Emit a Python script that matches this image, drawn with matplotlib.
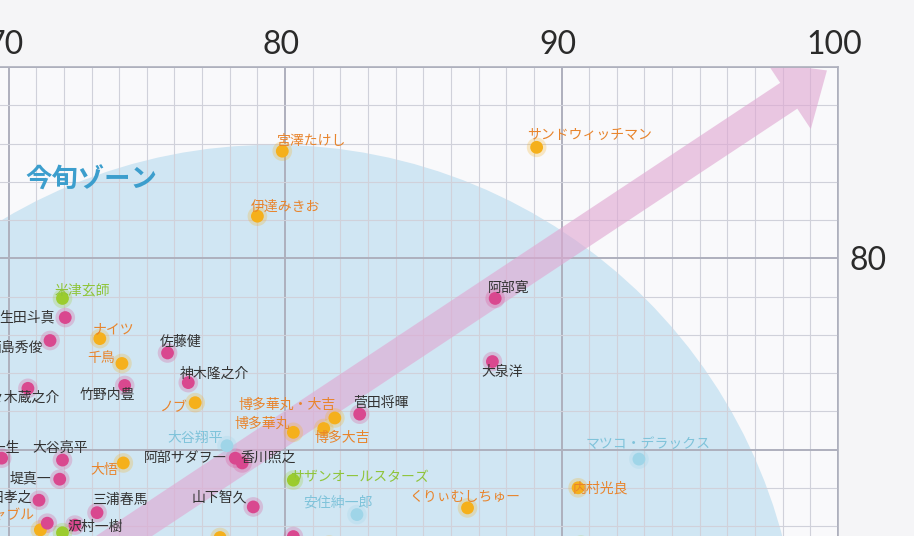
import numpy as np
import matplotlib.pyplot as plt
from matplotlib.patches import Ellipse, FancyArrowPatch
from matplotlib.ticker import MultipleLocator, FuncFormatter
from matplotlib.transforms import ScaledTranslation

plt.rcParams['font.family'] = ['Noto Sans CJK JP', 'DejaVu Sans']

# 名前・スコア（横軸・縦軸）・分類
names = ['宮澤たけし', '伊達みきお', 'サンドウィッチマン', '阿部寛', '大泉洋',
         'マツコ・デラックス', '内村光良', 'くりぃむしちゅー', '嵐', 'タカアンドトシ',
         'ウッチャンナンチャン', '安住紳一郎', 'サザンオールスターズ', 'ムロツヨシ', 'バカリズム',
         '山下智久', '阿部サダヲ―', '香川照之', '大谷翔平', '博多華丸・大吉',
         '博多華丸', '博多大吉', '菅田将暉', 'ノブ', '米津玄師',
         '生田斗真', '西島秀俊', 'ナイツ', '千鳥', '竹野内豊',
         '佐々木蔵之介', '佐藤健', '神木隆之介', '高橋一生', '大谷亮平',
         '堤真一', '山田孝之', 'アンタッチャブル', 'オードリー', '沢村一樹',
         '三浦春馬', '大悟', '', '']
x_score = [79.9, 79.0, 89.1, 87.6, 87.5,
           92.8, 90.6, 86.6, 90.7, 86.7,
           81.6, 82.6, 80.3, 80.3, 77.65,
           78.85, 78.2, 78.45, 77.9, 81.8,
           80.3, 81.4, 82.7, 76.75, 71.95,
           72.05, 71.5, 73.3, 74.1, 74.2,
           70.7, 75.75, 76.5, 69.75, 71.95,
           71.85, 71.1, 71.15, 69.3, 72.4,
           73.2, 74.15, 71.4, 71.95]
y_score = [85.6, 82.2, 85.8, 77.9, 74.6,
           69.5, 68.0, 66.95, 65.0, 64.85,
           65.0, 66.6, 68.4, 65.45, 65.4,
           67.0, 69.55, 69.3, 70.2, 71.65,
           70.9, 71.1, 71.85, 72.45, 77.9,
           76.9, 75.7, 75.8, 74.5, 73.35,
           73.2, 75.05, 73.5, 69.55, 69.45,
           68.45, 67.35, 65.8, 65.3, 66.05,
           66.7, 69.3, 66.15, 65.65]
group = ['owarai', 'owarai', 'owarai', 'haiyu', 'haiyu',
         'sonota', 'owarai', 'owarai', 'ongaku', 'owarai',
         'owarai', 'sonota', 'ongaku', 'haiyu', 'owarai',
         'haiyu', 'haiyu', 'haiyu', 'sonota', 'owarai',
         'owarai', 'owarai', 'haiyu', 'owarai', 'ongaku',
         'haiyu', 'haiyu', 'owarai', 'owarai', 'haiyu',
         'haiyu', 'haiyu', 'haiyu', 'haiyu', 'haiyu',
         'haiyu', 'haiyu', 'owarai', 'owarai', 'haiyu',
         'haiyu', 'owarai', 'haiyu', 'ongaku']

x_ticks = [70, 80, 90, 100]

# 色（点の色, 文字の色）
dot_color = {'haiyu': '#d9488f', 'owarai': '#f5b01c', 'ongaku': '#9bcc2e', 'sonota': '#9fd5e8'}
text_color = {'haiyu': '#333333', 'owarai': '#e8842c', 'ongaku': '#8fc43a', 'sonota': '#7fc3da'}

# ラベル位置（点からのずれ、ピクセル）
label_pos = {
    '宮澤たけし': (-5, 10, 'left'), '伊達みきお': (-7, 9, 'left'),
    'サンドウィッチマン': (-10, 12, 'left'), '阿部寛': (-7, 11, 'left'),
    '大泉洋': (-11, -10, 'left'), 'マツコ・デラックス': (-53, 15, 'left'),
    '内村光良': (-5, -1, 'left'), 'くりぃむしちゅー': (-58, 11, 'left'),
    '嵐': (0, 22, 'center'), 'タカアンドトシ': (0, 15, 'left'),
    'ウッチャンナンチャン': (3, 18, 'left'), '安住紳一郎': (-54, 12, 'left'),
    'サザンオールスターズ': (-3, 3, 'left'), 'ムロツヨシ': (-36, 10, 'left'),
    'バカリズム': (-63, 11, 'left'), '山下智久': (-6, 9, 'right'),
    '阿部サダヲ―': (-8, 0, 'right'), '香川照之': (-2, 5, 'left'),
    '大谷翔平': (-4, 8, 'right'), '博多華丸・大吉': (1, 13, 'right'),
    '博多華丸': (-3, 9, 'right'), '博多大吉': (-9, -9, 'left'),
    '菅田将暉': (-7, 11, 'left'), 'ノブ': (-8, -4, 'right'),
    '米津玄師': (-8, 8, 'left'), '生田斗真': (-10, 0, 'right'),
    '西島秀俊': (-7, -8, 'right'), 'ナイツ': (-7, 10, 'left'),
    '千鳥': (-7, 5, 'right'), '竹野内豊': (10, -10, 'right'),
    '佐々木蔵之介': (32, -9, 'right'), '佐藤健': (-8, 11, 'left'),
    '神木隆之介': (-8, 9, 'left'), '高橋一生': (18, 10, 'right'),
    '大谷亮平': (-30, 12, 'left'), '堤真一': (-9, 1, 'right'),
    '山田孝之': (-7, 2, 'right'), 'アンタッチャブル': (-6, 15, 'right'),
    'オードリー': (33, 6, 'right'), '沢村一樹': (-7, -2, 'left'),
    '三浦春馬': (-5, 13, 'left'), '大悟': (-5, -7, 'right'),
}

fig = plt.figure(figsize=(9.14, 5.36), dpi=100, facecolor='#f5f5f7')
ax = fig.add_axes([0, 0, 838 / 914, 469 / 536])
ax.set_facecolor('#f9f9fb')
ax.set_xlim(69.69, 100)
ax.set_ylim(65.48, 90)

# 方眼
ax.xaxis.set_major_locator(MultipleLocator(10))
ax.xaxis.set_minor_locator(MultipleLocator(1))
ax.yaxis.set_major_locator(MultipleLocator(10))
ax.yaxis.set_minor_locator(MultipleLocator(2))
ax.grid(which='minor', color='#d0d1da', lw=0.8)
ax.grid(which='major', color='#aeb0bd', lw=1.4)
ax.set_axisbelow(True)

ax.xaxis.tick_top()
ax.yaxis.tick_right()
ax.set_xticks(x_ticks)
ax.set_xticklabels([str(t) for t in x_ticks])
ax.yaxis.set_major_formatter(FuncFormatter(lambda v, p: '80' if abs(v - 80) < 0.1 else ''))
ax.tick_params(which='both', length=0)
ax.tick_params(axis='x', labelsize=23, pad=5, labelcolor='#2a2a2a')
ax.tick_params(axis='y', labelsize=23, pad=8, labelcolor='#2a2a2a')
for lab in ax.get_xticklabels() + ax.get_yticklabels():
    lab.set_family(['Lato', 'DejaVu Sans'])
for lab in ax.get_xticklabels():
    lab.set_transform(lab.get_transform() + ScaledTranslation(-4 / 100, 0, fig.dpi_scale_trans))

for side in ['left', 'bottom']:
    ax.spines[side].set_visible(False)
for side in ['top', 'right']:
    ax.spines[side].set_color('#aeb0bd')
    ax.spines[side].set_linewidth(1.2)

# 今旬ゾーン
zone = Ellipse((79.57, 58.43), 38.1, 55.0, facecolor='#d0e6f3', edgecolor='none', zorder=0.2)
ax.add_patch(zone)
ax.text(70.6, 84.07, '今旬ゾーン', fontsize=19, fontweight='bold', color='#3c9ecd',
        ha='left', va='center', zorder=5)

# 矢印
arrow = FancyArrowPatch((73.31, 64.65), (99.6, 89.82),
                        arrowstyle='simple,head_length=3.3,head_width=5.76,tail_width=2.23',
                        mutation_scale=10, shrinkA=0, shrinkB=0, lw=0,
                        color='#e0a8d2', alpha=0.62, zorder=1)
ax.add_patch(arrow)

# 点
cols = [dot_color[g] for g in group]
ax.scatter(x_score, y_score, s=200, c=cols, alpha=0.25, lw=0, zorder=2)
ax.scatter(x_score, y_score, s=85, c=cols, lw=0, zorder=3)

for n, x, y, g in zip(names, x_score, y_score, group):
    if not n:
        continue
    dx, dy, ha = label_pos[n]
    ax.annotate(n, (x, y), xytext=(dx, dy), textcoords='offset pixels',
                ha=ha, va='center', fontsize=10, color=text_color[g], zorder=4)

fig.savefig('out.png', dpi=100, facecolor=fig.get_facecolor())
